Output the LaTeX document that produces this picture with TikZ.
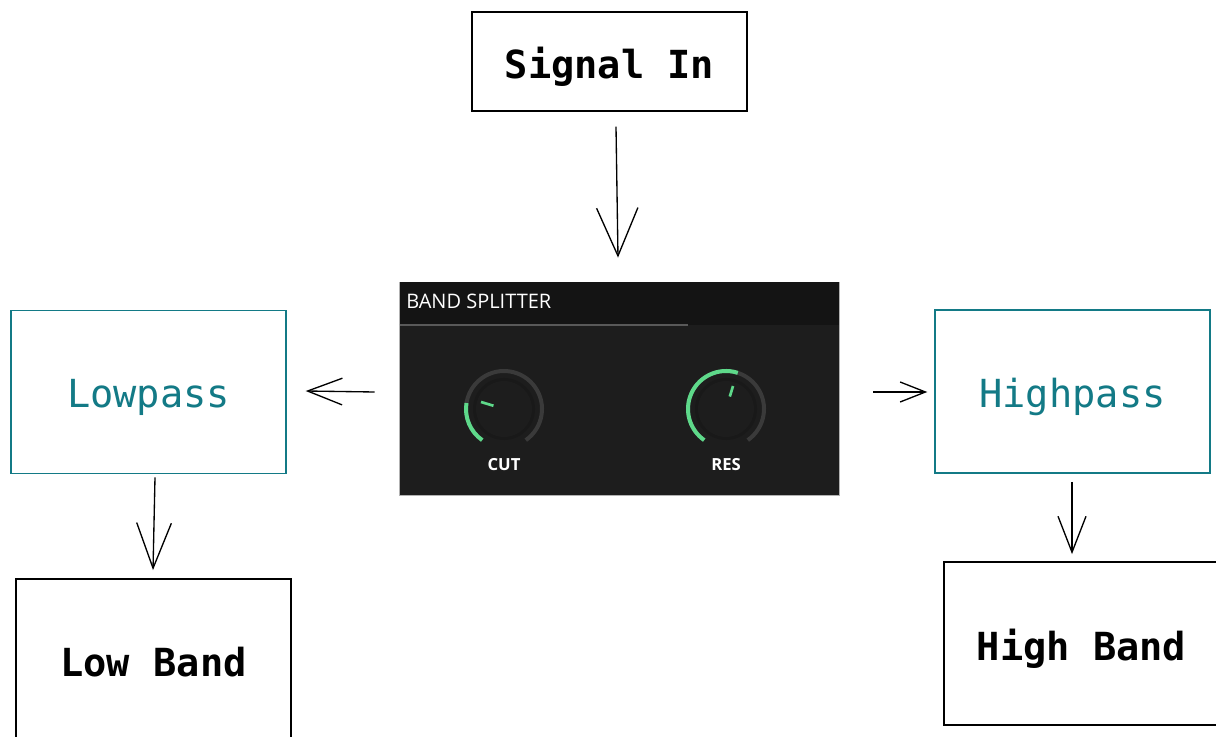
\documentclass[tikz,border=0pt]{standalone}
\usepackage{fontspec}
\setmonofont{DejaVu Sans Mono}
\newfontfamily\panelfont{Open Sans}
\usetikzlibrary{arrows.meta,calc}
\definecolor{tealc}{HTML}{137A86}
\definecolor{panelbg}{HTML}{1D1D1D}
\definecolor{headbg}{HTML}{141414}
\definecolor{knobgreen}{HTML}{5ED98A}
\definecolor{ringgray}{HTML}{3A3A3A}
\tikzset{
  blackbox/.style={draw=black, line width=1.1pt, minimum width=206.25pt, text depth=0pt, font=\ttfamily\bfseries\fontsize{29}{32}\selectfont, text=black},
  tealbox/.style={draw=tealc, line width=1.1pt, minimum width=206.25pt, minimum height=122.5pt, text depth=0pt, font=\ttfamily\fontsize{29}{32}\selectfont, text=tealc},
  knoblabel/.style={text=white, font=\panelfont\bfseries\fontsize{12.5}{14}\selectfont},
  ring/.style={line width=3pt},
}
\begin{document}
\begin{tikzpicture}[x=0.75pt,y=-0.75pt]
\clip (0,0) rectangle (1216,737);
\fill[white] (0,0) rectangle (1216,737);
% boxes
\node[blackbox, minimum height=74.25pt] (signal) at (609.5,61.5) {\raisebox{-2pt}{Signal In}};
\node[tealbox] (lowpass) at (148.5,392) {\raisebox{-2pt}{Lowpass}};
\node[tealbox] (highpass) at (1072.5,391.5) {\raisebox{-2pt}{Highpass}};
\node[blackbox, minimum height=122.5pt] (lowband) at (153.5,660.5) {\raisebox{-2pt}{Low Band}};
\node[blackbox, minimum height=122.5pt] (highband) at (1081.5,643.5) {\raisebox{-2pt}{High Band}};
% panel
\node[draw=gray!60, line width=0.6pt, fill=panelbg, minimum width=330pt, minimum height=159.75pt, inner sep=0pt] (panel) at (619,388.5) {};
\fill[headbg] (399.5,282.5) rectangle (838.5,325);
\draw[color=gray!70!black, line width=1.5pt] (399.5,325) -- (688,325);
\node[anchor=west, text=white, font=\panelfont\fontsize{15}{17}\selectfont, inner sep=0pt] (title) at (406,301) {BAND SPLITTER};
% knob CUT
\begin{scope}[shift={(504,409)}, yscale=-1]
  \draw[ringgray, ring] (-55:38) arc[start angle=-55, end angle=235, radius=38];
  \draw[knobgreen, ring] (171:38) arc[start angle=171, end angle=235, radius=38];
  \fill[black!90] (0,0) circle[radius=31];
  \fill[panelbg] (0,0) circle[radius=28];
  \draw[knobgreen, line width=2pt] (163:11) -- (163:24);
\end{scope}
\node[knoblabel] (cutlbl) at (504,465) {CUT};
% knob RES
\begin{scope}[shift={(726,409)}, yscale=-1]
  \draw[ringgray, ring] (-55:38) arc[start angle=-55, end angle=235, radius=38];
  \draw[knobgreen, ring] (72:38) arc[start angle=72, end angle=235, radius=38];
  \fill[black!90] (0,0) circle[radius=31];
  \fill[panelbg] (0,0) circle[radius=28];
  \draw[knobgreen, line width=2pt] (73:13) -- (73:24);
\end{scope}
\node[knoblabel] (reslbl) at (726,465) {RES};
% connectors
\draw[-{Straight Barb[length=36pt,width=31pt]}, line width=1pt] ($(signal.south)+(6.5,15)$) -- ($(panel.north)+(-1,-24)$);
\draw[-{Straight Barb[length=26pt,width=20pt]}, line width=1pt] ($(panel.west)+(-24,3.5)$) -- ($(lowpass.east)+(19,-1)$);
\draw[-{Straight Barb[length=19pt,width=15pt]}, line width=1pt] ($(panel.east)+(34,3.5)$) -- ($(highpass.west)+(-7,0.5)$);
\draw[-{Straight Barb[length=34pt,width=26pt]}, line width=1pt] ($(lowpass.south)+(6.5,3)$) -- ($(lowband.north)+(-0.5,-8)$);
\draw[-{Straight Barb[length=27pt,width=21pt]}, line width=1pt] ($(highpass.south)+(-0.5,8)$) -- ($(highband.north)+(-9.5,-7)$);
\end{tikzpicture}
\end{document}
